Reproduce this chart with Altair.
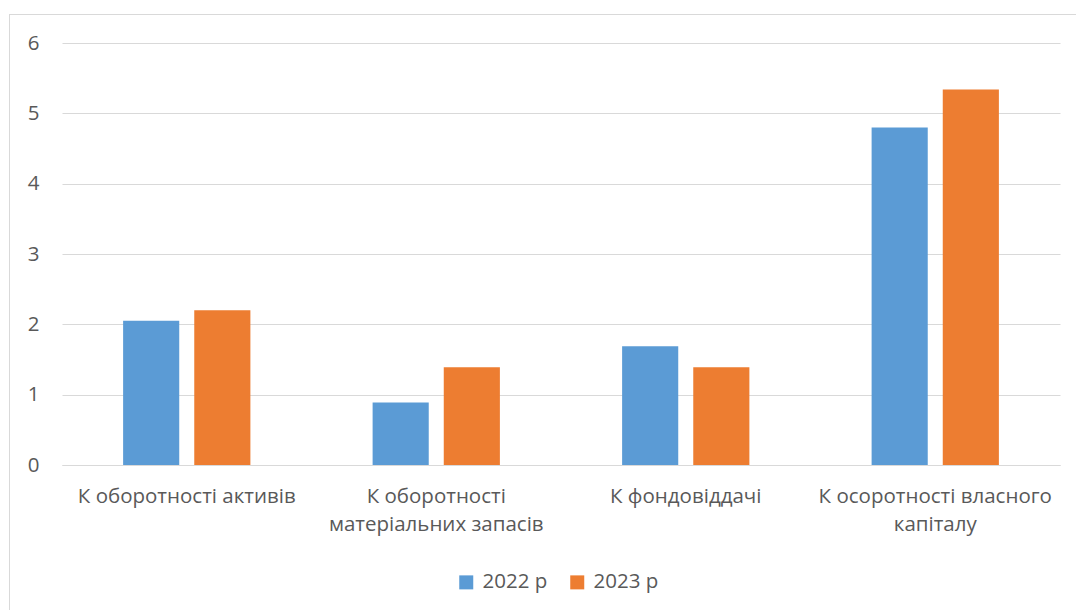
import altair as alt
import pandas as pd

# Turnover ratios by indicator and year
categories = [
    "К оборотності активів",
    "К оборотності\nматеріальних запасів",
    "К фондовіддачі",
    "К осоротності власного\nкапіталу",
]
years = ["2022 р", "2023 р"]
values_2022 = [2.05, 0.89, 1.69, 4.80]
values_2023 = [2.20, 1.39, 1.39, 5.34]
y_ticks = [0, 1, 2, 3, 4, 5, 6]

colors = ["#5B9BD5", "#ED7D31"]
text_color = "#595959"
grid_color = "#D9D9D9"
font = "Open Sans"
font_size = 20.5

rows = []
for cat, v22, v23 in zip(categories, values_2022, values_2023):
    rows.append({"category": cat, "year": years[0], "value": v22})
    rows.append({"category": cat, "year": years[1], "value": v23})
df = pd.DataFrame(rows)

W, H = 998, 422
PAD_L, PAD_T = 62, 43

bars = alt.Chart(df).mark_bar().encode(
    x=alt.X(
        "category:N",
        sort=categories,
        scale=alt.Scale(paddingInner=0, paddingOuter=0),
        axis=alt.Axis(
            title=None,
            labelAngle=0,
            labelFont=font,
            labelFontSize=font_size,
            labelColor=text_color,
            labelExpr="split(datum.label, '\\n')",
            labelLineHeight=28,
            labelPadding=21,
            ticks=False,
            domain=True,
            domainColor=grid_color,
            domainWidth=1,
            grid=False,
            labelLimit=400,
        ),
    ),
    xOffset=alt.XOffset(
        "year:N",
        sort=years,
        scale=alt.Scale(paddingInner=0.211, paddingOuter=0.859),
    ),
    y=alt.Y(
        "value:Q",
        scale=alt.Scale(domain=[0, 6], nice=False),
        axis=alt.Axis(
            title=None,
            values=y_ticks,
            labelFont=font,
            labelFontSize=font_size,
            labelColor=text_color,
            labelPadding=23,
            ticks=False,
            domain=False,
            grid=True,
            gridColor=grid_color,
            gridWidth=1,
        ),
    ),
    color=alt.Color(
        "year:N",
        sort=years,
        scale=alt.Scale(domain=years, range=colors),
        legend=alt.Legend(
            title=None,
            orient="none",
            direction="horizontal",
            legendX=394,
            legendY=529,
            symbolType="square",
            symbolSize=196,
            symbolStrokeWidth=0,
            labelFont=font,
            labelFontSize=font_size,
            labelColor=text_color,
            labelOffset=6,
            columnPadding=19,
            padding=0,
        ),
    ),
)

# Outer chart frame
frame = alt.Chart(df).mark_rect(
    fillOpacity=0, stroke=grid_color, strokeWidth=1
).encode(
    x=alt.value(9 - PAD_L + 0.5),
    x2=alt.value(1100),
    y=alt.value(14 - PAD_T + 0.5),
    y2=alt.value(700),
)

chart = (
    alt.layer(frame, bars)
    .properties(
        width=W,
        height=H,
        autosize=alt.AutoSizeParams(type="none"),
        padding={"left": PAD_L, "top": PAD_T, "right": 1076 - PAD_L - W, "bottom": 610 - PAD_T - H},
        background="white",
    )
    .configure_view(stroke=None)
)

chart.save("out.html", embed_options={"renderer": "svg", "actions": False})
